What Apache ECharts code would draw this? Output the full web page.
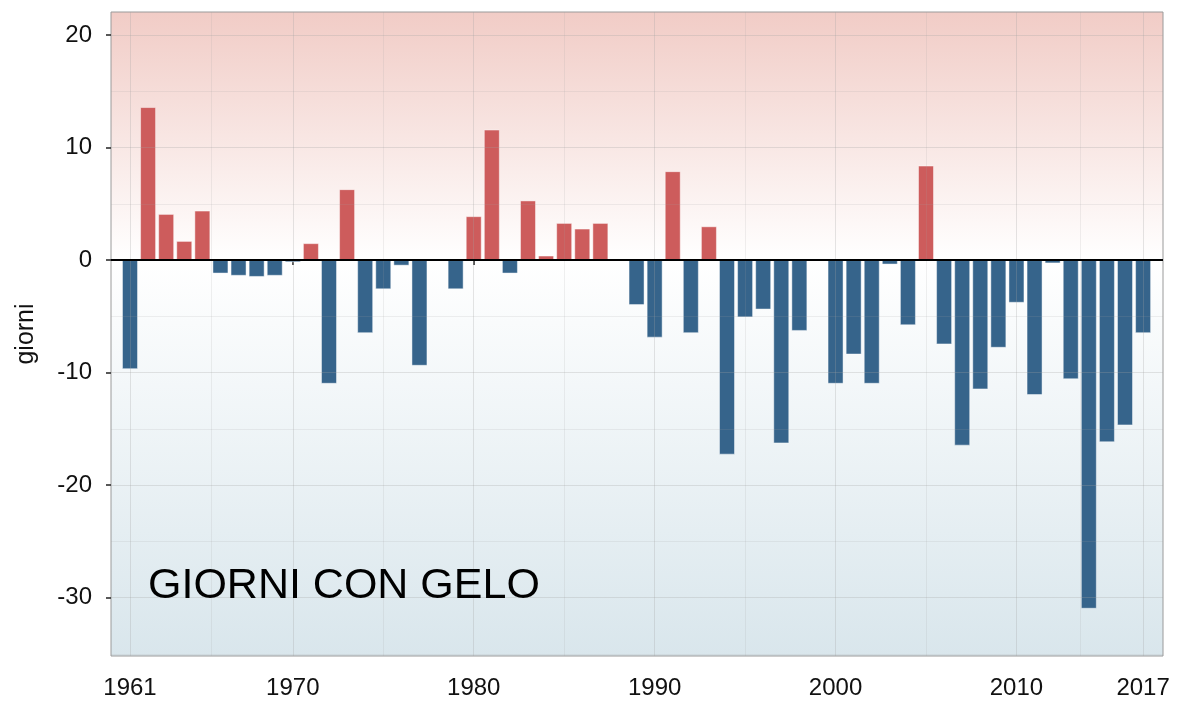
<!DOCTYPE html>
<html>
<head>
<meta charset="utf-8">
<title>Giorni con gelo</title>
<script src="https://cdn.jsdelivr.net/npm/echarts@6/dist/echarts.min.js"></script>
<style>
  html, body { margin: 0; padding: 0; background: #fff; }
  #chart { width: 1183px; height: 705px; }
</style>
</head>
<body>
<div id="chart"></div>
<script>
// anni
const years = [
  1961, 1962, 1963, 1964, 1965, 1966, 1967, 1968, 1969, 1970,
  1971, 1972, 1973, 1974, 1975, 1976, 1977, 1978, 1979, 1980,
  1981, 1982, 1983, 1984, 1985, 1986, 1987, 1988, 1989, 1990,
  1991, 1992, 1993, 1994, 1995, 1996, 1997, 1998, 1999, 2000,
  2001, 2002, 2003, 2004, 2005, 2006, 2007, 2008, 2009, 2010,
  2011, 2012, 2013, 2014, 2015, 2016, 2017
]
// anomalia giorni con gelo
const anomaly = [
  -9.7, 13.6, 4.1, 1.7, 4.4, -1.2, -1.4, -1.5, -1.4, -0.2,
  1.5, -11.0, 6.3, -6.5, -2.6, -0.5, -9.4, 0, -2.6, 3.9,
  11.6, -1.2, 5.3, 0.4, 3.3, 2.8, 3.3, 0, -4.0, -6.9,
  7.9, -6.5, 3.0, -17.3, -5.1, -4.4, -16.3, -6.3, 0, -11.0,
  -8.4, -11.0, -0.4, -5.8, 8.4, -7.5, -16.5, -11.5, -7.8, -3.8,
  -12.0, -0.3, -10.6, -31.0, -16.2, -14.7, -6.5
]
const xTicks = [1961, 1970, 1980, 1990, 2000, 2010, 2017]
const xMinorGrid = [1965.5, 1975, 1985, 1995, 2005, 2013.5]
const yTicks = [-30, -20, -10, 0, 10, 20]
const yMinorGrid = [-35, -25, -15, -5, 5, 15]

const X_MIN = 1959.95
const X_MAX = 2018.1
const Y_MIN = -35.2
const Y_MAX = 22.05

const fontFamily = '"Liberation Sans", Arial, Helvetica, sans-serif'
const zeroStop = Y_MAX / (Y_MAX - Y_MIN)

const chart = echarts.init(document.getElementById('chart'))

const gridLine = (axis, values, color) => values.map(v => ({
  [axis]: v,
  lineStyle: { color: color, width: 1, type: 'solid' }
}))

chart.setOption({
  animation: false,
  textStyle: { fontFamily: fontFamily },
  title: {
    text: 'GIORNI CON GELO',
    left: 148,
    top: 565,
    padding: 0,
    textStyle: {
      fontFamily: fontFamily,
      fontSize: 43,
      fontWeight: 'normal',
      color: '#000'
    }
  },
  grid: {
    left: 111,
    right: 20,
    top: 12,
    bottom: 49,
    outerBoundsMode: 'none',
    containLabel: false,
    show: true,
    borderColor: '#9a9a9a',
    borderWidth: 1,
    backgroundColor: new echarts.graphic.LinearGradient(0, 0, 0, 1, [
      { offset: 0, color: '#f1ccc6' },
      { offset: zeroStop, color: '#ffffff' },
      { offset: 1, color: '#d9e6ec' }
    ])
  },
  xAxis: {
    type: 'value',
    min: X_MIN,
    max: X_MAX,
    axisLine: { show: false },
    splitLine: { show: false },
    axisTick: {
      show: true,
      customValues: xTicks,
      length: 5,
      lineStyle: { color: '#222', width: 1.5 }
    },
    axisLabel: {
      customValues: xTicks,
      formatter: v => String(v),
      margin: 20,
      fontSize: 24,
      color: '#111',
      fontFamily: fontFamily
    }
  },
  yAxis: {
    type: 'value',
    min: Y_MIN,
    max: Y_MAX,
    name: 'giorni',
    nameLocation: 'middle',
    nameGap: 72,
    nameRotate: 90,
    nameTextStyle: { fontSize: 25, color: '#111', fontFamily: fontFamily },
    axisLine: { show: false },
    splitLine: { show: false },
    axisTick: {
      show: true,
      customValues: yTicks,
      length: 5,
      lineStyle: { color: '#222', width: 1.5 }
    },
    axisLabel: {
      customValues: yTicks,
      margin: 19,
      fontSize: 24,
      color: '#111',
      fontFamily: fontFamily
    }
  },
  series: [
    {
      // griglia
      type: 'scatter',
      data: [],
      silent: true,
      z: 1,
      markLine: {
        silent: true,
        symbol: 'none',
        label: { show: false },
        animation: false,
        data: [].concat(
          gridLine('xAxis', xTicks, 'rgba(160,160,160,0.28)'),
          gridLine('xAxis', xMinorGrid, 'rgba(160,160,160,0.16)'),
          gridLine('yAxis', yTicks, 'rgba(160,160,160,0.28)'),
          gridLine('yAxis', yMinorGrid, 'rgba(160,160,160,0.16)')
        )
      }
    },
    {
      type: 'bar',
      barWidth: 16,
      z: 2,
      data: years.map((y, i) => [y, anomaly[i]]),
      itemStyle: {
        color: p => (p.value[1] >= 0 ? '#cd5c5c' : '#36648b'),
        borderColor: 'rgba(255,255,255,0.45)',
        borderWidth: 1
      },
      markLine: {
        silent: true,
        symbol: 'none',
        label: { show: false },
        animation: false,
        data: [{ yAxis: 0 }],
        lineStyle: { color: '#000', width: 2, type: 'solid' }
      }
    }
  ]
})
</script>
</body>
</html>
